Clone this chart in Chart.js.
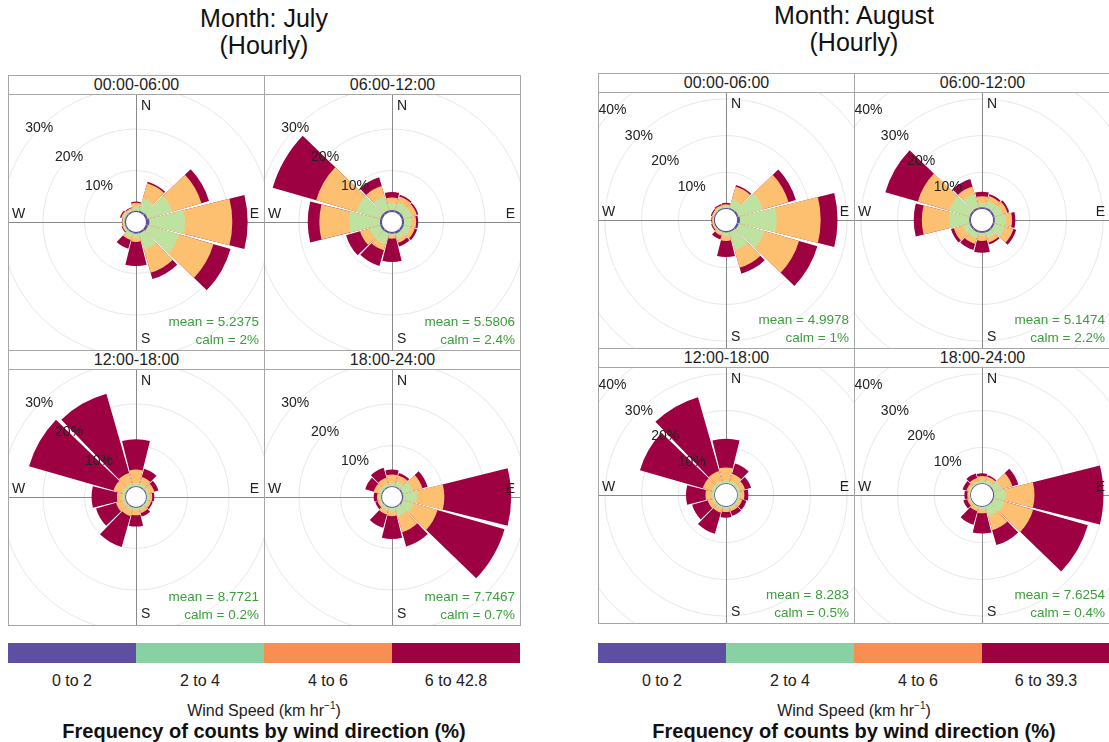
<!DOCTYPE html>
<html>
<head>
<meta charset="utf-8">
<script src="https://cdn.jsdelivr.net/npm/chart.js@4.4.0/dist/chart.umd.min.js"></script>
<style>
body { margin: 0; background: #fff; font-family: "Liberation Sans", Arial, sans-serif; color: #111; }
#page { position: relative; width: 1109px; height: 742px; overflow: hidden; }
.title { position: absolute; width: 400px; text-align: center; font-size: 25px; line-height: 27px; }
.panel { position: absolute; width: 257px; height: 276px; box-sizing: border-box; border: 1px solid #a6a6a6; }
.strip { height: 19px; box-sizing: border-box; border-bottom: 1px solid #a6a6a6; text-align: center; font-size: 16px; line-height: 18px; color: #222; }
.panel canvas { display: block; }
.bar { position: absolute; height: 20px; }
.lab { position: absolute; width: 128px; text-align: center; font-size: 16px; line-height: 18px; color: #222; }
.sub { position: absolute; width: 512px; text-align: center; font-size: 16px; line-height: 18px; color: #222; }
.main { position: absolute; width: 512px; text-align: center; font-size: 20px; font-weight: bold; line-height: 22px; }
sup { font-size: 10px; vertical-align: 7px; }
</style>
</head>
<body>
<div id="page"></div>
<script>
// sectors: 0,30,...,330 degrees. each row = cumulative % at the top of a speed band
const directions = [0, 30, 60, 90, 120, 150, 180, 210, 240, 270, 300, 330];
const hours = ['00:00-06:00', '06:00-12:00', '12:00-18:00', '18:00-24:00'];

const jul_00_06 = [
    [0.3, 0.4, 0.5, 0.8, 0.6, 0.4, 0.4, 0.3, 0.3, 0.3, 0.3, 0.3],
    [1.2, 3.5, 6.7, 9.4, 8.4, 4.5, 1.4, 1.5, 0.8, 0.7, 0.9, 0.8],
    [2.2, 7.3, 14.0, 20.8, 17.0, 10.3, 2.4, 2.1, 1.0, 0.9, 1.3, 1.1],
    [2.5, 7.7, 15.9, 24.5, 21.3, 11.9, 8.2, 4.3, 1.2, 1.0, 1.6, 1.3]
];
const jul_06_12 = [
    [0.5, 0.5, 0.5, 0.5, 0.5, 0.5, 0.4, 0.4, 0.5, 0.5, 0.5, 0.5],
    [2.2, 2.5, 2.5, 2.2, 2.2, 1.8, 0.8, 3.2, 3.2, 7.9, 6.5, 4.0],
    [3.5, 4.0, 3.8, 3.4, 3.3, 2.8, 1.6, 4.7, 5.6, 15.1, 16.6, 6.6],
    [4.8, 4.4, 4.2, 3.9, 3.9, 3.7, 7.2, 8.6, 9.1, 17.9, 27.5, 8.8]
];
const jul_12_18 = [
    [0.2, 0.2, 0.2, 0.2, 0.2, 0.2, 0.2, 0.2, 0.2, 0.2, 0.2, 0.2],
    [1.0, 1.0, 0.8, 0.8, 0.8, 0.8, 0.8, 0.8, 0.8, 0.9, 1.0, 1.0],
    [4.2, 2.6, 2.2, 1.5, 1.4, 1.6, 2.0, 2.4, 2.6, 2.2, 3.2, 3.6],
    [11.5, 4.7, 3.2, 2.0, 1.8, 2.5, 4.7, 10.1, 7.6, 8.3, 24.4, 23.5]
];
const jul_18_24 = [
    [0.2, 0.2, 0.3, 0.3, 0.3, 0.2, 0.2, 0.2, 0.2, 0.2, 0.2, 0.2],
    [1.0, 1.5, 2.8, 3.6, 3.0, 2.4, 1.2, 1.0, 0.8, 0.8, 1.0, 1.0],
    [3.0, 3.0, 5.2, 10.2, 9.0, 6.4, 2.2, 2.0, 1.2, 1.2, 2.2, 2.4],
    [4.2, 3.6, 6.5, 26.3, 25.8, 10.0, 7.7, 5.3, 1.8, 2.0, 4.3, 4.9]
];
const aug_00_06 = [
    [0.3, 0.4, 0.5, 0.8, 0.6, 0.4, 0.4, 0.3, 0.3, 0.3, 0.3, 0.3],
    [0.8, 2.9, 7.5, 10.8, 7.9, 5.6, 1.4, 0.8, 0.6, 0.6, 0.7, 0.8],
    [1.3, 6.5, 14.7, 22.8, 17.7, 10.5, 2.7, 1.4, 0.9, 0.8, 1.0, 1.2],
    [1.7, 6.9, 16.8, 27.4, 22.9, 12.2, 7.1, 2.5, 1.2, 1.0, 1.3, 1.5]
];
const aug_06_12 = [
    [0.5, 0.5, 0.5, 0.5, 0.5, 0.5, 0.5, 0.5, 0.5, 0.5, 0.5, 0.5],
    [1.7, 2.5, 2.8, 3.5, 3.5, 2.2, 1.4, 2.2, 2.5, 5.9, 6.2, 4.3],
    [3.5, 3.8, 4.2, 5.2, 5.9, 3.4, 2.7, 3.8, 5.0, 13.4, 15.2, 6.5],
    [4.7, 4.3, 4.7, 6.1, 6.7, 3.9, 5.9, 5.5, 5.8, 15.6, 24.4, 8.6]
];
const aug_12_18 = [
    [0.2, 0.2, 0.2, 0.2, 0.2, 0.2, 0.2, 0.2, 0.2, 0.2, 0.2, 0.2],
    [1.0, 1.0, 0.9, 0.9, 0.8, 0.8, 0.8, 0.8, 0.8, 0.9, 1.0, 1.0],
    [4.5, 3.0, 2.4, 2.0, 1.6, 1.6, 1.6, 2.0, 2.2, 2.6, 3.6, 3.8],
    [12.3, 5.9, 4.1, 3.1, 2.8, 2.9, 3.2, 8.0, 6.6, 7.9, 21.4, 24.7]
];
const aug_18_24 = [
    [0.2, 0.2, 0.3, 0.3, 0.3, 0.2, 0.2, 0.2, 0.2, 0.2, 0.2, 0.2],
    [1.0, 1.2, 2.5, 3.4, 3.4, 3.0, 1.0, 0.8, 0.6, 0.6, 0.8, 0.8],
    [2.2, 2.2, 5.6, 11.3, 11.5, 7.0, 2.0, 1.6, 1.2, 1.0, 1.4, 1.8],
    [2.9, 2.6, 7.3, 30.1, 27.0, 11.2, 7.5, 5.4, 2.3, 1.8, 2.5, 3.1]
];

const julMean = ['5.2375', '5.5806', '8.7721', '7.7467'];
const julCalm = ['2%', '2.4%', '0.2%', '0.7%'];
const augMean = ['4.9978', '5.1474', '8.283', '7.6254'];
const augCalm = ['1%', '2.2%', '0.5%', '0.4%'];

const julBands = ['0 to 2', '2 to 4', '4 to 6', '6 to 42.8'];
const augBands = ['0 to 2', '2 to 4', '4 to 6', '6 to 39.3'];
const julTicks = [10, 20, 30];
const augTicks = [10, 20, 30, 40];

const roseCols = ['#5e4fa2', '#bee3a0', '#fdc070', '#9e0142'];
const keyCols = ['#5e4fa2', '#88d1a4', '#f98e52', '#9e0142'];
const SECTOR = 28, GAP = 2;

const page = document.getElementById('page');

function el(tag, cls, style, html) {
    const d = document.createElement(tag);
    if (cls) d.className = cls;
    Object.assign(d.style, style);
    if (html !== undefined) d.innerHTML = html;
    page.appendChild(d);
    return d;
}

function withGaps(vals) {
    const out = [];
    vals.forEach(v => out.push(v, 0));
    return out;
}

const roseDeco = {
    id: 'roseDeco',
    beforeDatasetsDraw(chart) {
        const s = chart.scales.r, a = chart.chartArea, ctx = chart.ctx;
        ctx.save();
        ctx.strokeStyle = '#8a8a8a';
        ctx.lineWidth = 1;
        ctx.beginPath();
        ctx.moveTo(s.xCenter + 0.5, a.top);
        ctx.lineTo(s.xCenter + 0.5, a.bottom);
        ctx.moveTo(a.left, s.yCenter + 0.5);
        ctx.lineTo(a.right, s.yCenter + 0.5);
        ctx.stroke();
        ctx.restore();
    },
    afterDatasetsDraw(chart, args, opts) {
        const s = chart.scales.r, a = chart.chartArea, ctx = chart.ctx;
        const cx = s.xCenter, cy = s.yCenter;
        ctx.save();
        // hole in the middle
        ctx.fillStyle = '#fff';
        ctx.beginPath();
        ctx.arc(cx, cy, s.getDistanceFromCenterForValue(0), 0, Math.PI * 2);
        ctx.fill();

        ctx.fillStyle = '#222';
        ctx.font = '14px "Liberation Sans", Arial, sans-serif';
        ctx.textBaseline = 'middle';
        ctx.textAlign = 'left';
        ctx.fillText('N', cx + 5, a.top + 11);
        ctx.fillText('S', cx + 5, a.bottom - 11);
        ctx.fillText('W', a.left + 3, cy - 8);
        ctx.textAlign = 'right';
        ctx.fillText('E', a.right - 5, cy - 8);

        ctx.textAlign = 'center';
        const ang = 46 * Math.PI / 180;
        opts.ticks.forEach(v => {
            const r = s.getDistanceFromCenterForValue(v);
            ctx.fillText(v + '%', cx - r * Math.sin(ang), cy - r * Math.cos(ang));
        });

        ctx.fillStyle = '#3a9e3a';
        ctx.textAlign = 'right';
        ctx.font = '13.5px "Liberation Sans", Arial, sans-serif';
        ctx.fillText('mean = ' + opts.mean, a.right - 5, a.bottom - 28);
        ctx.fillText('calm = ' + opts.calm, a.right - 5, a.bottom - 10);
        ctx.restore();
    }
};

function drawRose(canvas, cum, rMin, rMax, ticks, mean, calm) {
    const labels = [];
    directions.forEach(d => labels.push(String(d), ''));
    return new Chart(canvas, {
        type: 'polarArea',
        data: {
            labels: labels,
            datasets: cum.map((band, b) => ({
                data: withGaps(band),
                backgroundColor: c => (c.dataIndex % 2 ? 'rgba(0,0,0,0)' : roseCols[b]),
                borderWidth: 0,
                angle: c => (c.dataIndex % 2 ? GAP : SECTOR)
            }))
        },
        options: {
            responsive: false,
            animation: false,
            events: [],
            layout: { padding: 0 },
            plugins: {
                legend: { display: false },
                tooltip: { enabled: false },
                roseDeco: { ticks: ticks, mean: mean, calm: calm }
            },
            scales: {
                r: {
                    min: rMin,
                    max: rMax,
                    startAngle: -SECTOR / 2,
                    ticks: { display: false },
                    grid: { color: '#e8e8e8', lineWidth: 1, circular: true },
                    angleLines: { display: false },
                    pointLabels: { display: false },
                    afterBuildTicks: sc => {
                        sc.ticks = [rMin].concat(ticks).map(v => ({ value: v }));
                    }
                }
            }
        },
        plugins: [roseDeco]
    });
}

function drawMonth(cfg) {
    el('div', 'title', { left: (cfg.x + 256 - 200) + 'px', top: cfg.titleTop + 'px' },
        'Month: ' + cfg.month + '<br>(Hourly)');
    cfg.panels.forEach((cum, i) => {
        const row = Math.floor(i / 2), col = i % 2;
        const p = el('div', 'panel', { left: (cfg.x + col * 256) + 'px', top: (cfg.y + row * 275) + 'px' });
        const strip = document.createElement('div');
        strip.className = 'strip';
        strip.textContent = hours[i];
        p.appendChild(strip);
        const cv = document.createElement('canvas');
        cv.width = 255;
        cv.height = 255;
        p.appendChild(cv);
        drawRose(cv, cum, cfg.rMin, cfg.rMax, cfg.ticks, cfg.mean[i], cfg.calm[i]);
    });
    // colour key
    cfg.bands.forEach((b, i) => {
        el('div', 'bar', { left: (cfg.x + i * 128) + 'px', top: '643px', width: '128px', background: keyCols[i] });
        el('div', 'lab', { left: (cfg.x + i * 128) + 'px', top: '672px' }, b);
    });
    el('div', 'sub', { left: cfg.x + 'px', top: '697px' }, 'Wind Speed (km hr<sup>\u22121</sup>)');
    el('div', 'main', { left: cfg.x + 'px', top: '720px' }, 'Frequency of counts by wind direction (%)');
}

drawMonth({
    month: 'July', x: 8, y: 75, titleTop: 5,
    panels: [jul_00_06, jul_06_12, jul_12_18, jul_18_24],
    rMin: -2.41, rMax: 28.19, ticks: julTicks,
    mean: julMean, calm: julCalm, bands: julBands
});
drawMonth({
    month: 'August', x: 598, y: 73, titleTop: 2,
    panels: [aug_00_06, aug_06_12, aug_12_18, aug_18_24],
    rMin: -3.0, rMax: 31.6, ticks: augTicks,
    mean: augMean, calm: augCalm, bands: augBands
});
</script>
</body>
</html>
